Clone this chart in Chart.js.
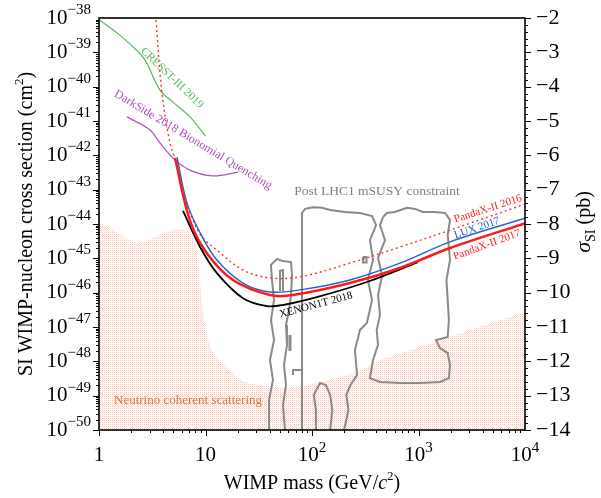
<!DOCTYPE html>
<html>
<head>
<meta charset="utf-8">
<script src="https://cdn.jsdelivr.net/npm/chart.js@4"></script>
<style>
  html, body { margin: 0; padding: 0; background: #fff; }
</style>
</head>
<body>
<canvas id="chart" width="601" height="498"></canvas>
<script>
// axis ranges
const massRange = [1, 10000];
const sigmaExpRange = [-50, -38];
const pbRange = [-14, -2];

// ticks
const massTicks = [1, 10, 100, 1000, 10000];
const massTickLabels = [['1', ''], ['10', ''], ['10', '2'], ['10', '3'], ['10', '4']];
const sigmaTickExps = [-38, -39, -40, -41, -42, -43, -44, -45, -46, -47, -48, -49, -50];
const pbTicks = [-2, -3, -4, -5, -6, -7, -8, -9, -10, -11, -12, -13, -14];

// curves: [mass GeV, log10 sigma cm^2]
const cresst2019 = [[1, -38.05], [1.48, -38.44], [2.09, -38.84], [2.7, -39.22], [3.74, -40.1], [4.95, -40.45], [7.15, -40.88], [10, -41.44]];
const darkside2018 = [[1.83, -40.88], [3.01, -41.26], [3.74, -41.64], [4.95, -42.08], [7.15, -42.43], [11.7, -42.6], [20.2, -42.49]];
const pandax2016 = [[3.43, -38.06], [3.9, -40.18], [4.64, -41.64], [5.4, -42.25], [6.15, -43.1], [8.9, -44.3], [12.8, -44.76], [22.5, -45.34], [40.3, -45.57], [77, -45.54], [227, -45.14], [670, -44.67], [1977, -44.18], [10000, -43.42]];
const lux2017 = [[5.4, -42.05], [6.7, -43.39], [8.9, -44.26], [12.8, -45.05], [22.5, -45.72], [40, -45.98], [77, -45.92], [227, -45.63], [670, -45.14], [1977, -44.52], [10000, -43.83]];
const pandax2017 = [[5.17, -42.08], [7.15, -43.9], [10.3, -44.85], [18.1, -45.63], [40.3, -46.07], [66, -46.07], [227, -45.72], [670, -45.28], [1977, -44.7], [10000, -43.98]];
const xenon2018 = [[6.15, -43.62], [8.9, -44.67], [12.8, -45.43], [22.5, -46.16], [37.8, -46.39], [53, -46.36], [111, -46.13], [328, -45.69], [989, -45.11]];
const neutrinoFloor = [[1, -43.95], [1.5, -44.26], [2.32, -44.55], [3.36, -44.38], [5.4, -44.15], [7.15, -44.26], [7.97, -44.55], [8.9, -45.72], [9.9, -47.0], [11.5, -47.67], [16.3, -48.25], [23.5, -48.6], [62, -48.75], [183, -48.46], [283, -48.25], [437, -47.96], [1030, -47.58], [2450, -47.18], [10000, -46.56]];

// post LHC1 mSUSY contours
const susyA = [[40.3, -50], [39.5, -49.13], [43, -48.54], [40.3, -47.96], [44, -47.38], [41.2, -46.8], [44, -46.21], [42.1, -45.63], [41.2, -45.19], [46.9, -45.02], [53.4, -45.08], [63.5, -45.11], [64.9, -45.49], [63.5, -46.07], [60.8, -46.51], [57, -46.94], [58.2, -47.52], [54.6, -48.11], [57, -48.69], [53.4, -49.27], [55.7, -50]];
const susyFinger = [[50.1, -45.95], [50.1, -45.36], [53.4, -45.34], [53.4, -45.95]];
const susyBlob = [[62.1, -47.23], [62.1, -47.7]];
const susyHook = [[66.3, -48.4], [66.3, -48.25], [80.6, -48.25]];
const susyB = [[80.6, -50], [80.6, -43.68], [86, -43.56], [102, -43.51], [124, -43.53], [148, -43.59], [204, -43.65], [282, -43.68], [366, -43.77], [400, -44.03], [350, -44.47], [374, -45.05], [335, -45.63], [366, -46.21], [328, -46.88], [282, -47.09], [253, -47.67], [265, -48.4], [230, -48.69], [210, -48.98], [220, -49.42], [200, -50]];
const susyD = [[107, -50], [109, -49.42], [104, -48.98], [119, -48.63], [135, -48.69], [148, -48.98], [155, -49.42], [148, -50]];
const susyC = [[464, -43.8], [505, -43.68], [600, -43.65], [780, -43.53], [930, -43.56], [1100, -43.65], [1429, -43.65], [1774, -43.68], [1976, -43.88], [1880, -44.32], [1976, -45.05], [1830, -45.63], [1880, -46.21], [1930, -46.8], [1880, -47.29], [1460, -47.38], [1590, -47.61], [1880, -47.76], [1976, -48.11], [1930, -48.49], [1592, -48.6], [1040, -48.63], [670, -48.63], [435, -48.6], [350, -48.49], [374, -47.96], [417, -47.52], [405, -47.09], [435, -46.65], [417, -46.07], [455, -45.49], [417, -44.99], [485, -44.47], [435, -44.03], [464, -43.8]];
const susyLoop = [[301, -44.96], [325, -44.96], [325, -45.12], [301, -45.12], [301, -44.96]];

const toPoints = arr => arr.map(p => ({ x: p[0], y: Math.pow(10, p[1]) }));

function dotPattern(ctx) {
  const c = document.createElement('canvas');
  c.width = 2; c.height = 2;
  const g = c.getContext('2d');
  g.fillStyle = 'rgb(250,196,182)';
  g.fillRect(0, 0, 1, 1);
  g.fillStyle = 'rgb(253,232,226)';
  g.fillRect(1, 1, 1, 1);
  return ctx.createPattern(c, 'repeat');
}

const serif = '"Liberation Serif", "Times New Roman", serif';

// text with super/subscripts, runs = [{t, size, italic, dy}]
function drawRuns(ctx, runs, x, y, align) {
  let w = 0;
  runs.forEach(r => {
    ctx.font = (r.italic ? 'italic ' : '') + r.size + 'px ' + serif;
    r.w = ctx.measureText(r.t).width;
    w += r.w;
  });
  let cx = align === 'center' ? x - w / 2 : align === 'right' ? x - w : x;
  ctx.textAlign = 'left';
  runs.forEach(r => {
    ctx.font = (r.italic ? 'italic ' : '') + r.size + 'px ' + serif;
    ctx.fillText(r.t, cx, y + (r.dy || 0));
    cx += r.w;
  });
}

const annotations = [
  { text: 'CRESST-III 2019', m: 4.85, e: -39.75, angle: 44, color: '#5cb85c', size: 11.5 },
  { text: 'DarkSide 2018 Bionomial Quenching', m: 7.64, e: -41.55, angle: 31, color: '#a855b5', size: 12 },
  { text: 'Post LHC1 mSUSY constraint', m: 408, e: -43.04, angle: 0, color: '#808080', size: 13.5 },
  { text: 'PandaX-II 2016', m: 4496, e: -43.56, angle: -18, color: '#ff2020', size: 11 },
  { text: 'LUX 2017', m: 3540, e: -44.12, angle: -19, color: '#2060c0', size: 11 },
  { text: 'PandaX-II 2017', m: 4400, e: -44.61, angle: -20, color: '#ff2020', size: 11 },
  { text: 'XENON1T 2018', m: 109, e: -46.36, angle: -15, color: '#000', size: 11 },
  { text: 'Neutrino coherent scattering', m: 6.85, e: -49.13, angle: 0, color: '#d2783c', size: 13 }
];

const axesPlugin = {
  id: 'axesPlugin',
  afterDatasetsDraw(chart) {
    const { ctx, chartArea: a, scales } = chart;
    const x = scales.x, y = scales.y, y2 = scales.y2;
    ctx.save();
    ctx.fillStyle = '#000';
    ctx.strokeStyle = '#000';

    // tick marks
    ctx.lineWidth = 1;
    ctx.beginPath();
    for (let d = 0; d < 4; d++) {
      for (let k = 1; k < 10; k++) {
        const px = Math.round(x.getPixelForValue(Math.pow(10, d) * k)) + 0.5;
        ctx.moveTo(px, a.bottom);
        ctx.lineTo(px, a.bottom + (k === 1 ? 6 : 3));
      }
    }
    for (let ex = -50; ex < -38; ex++) {
      for (let k = 1; k < 10; k++) {
        const py = Math.round(y.getPixelForValue(k * Math.pow(10, ex))) + 0.5;
        ctx.moveTo(a.left, py);
        ctx.lineTo(a.left - (k === 1 ? 6 : 3), py);
      }
    }
    for (let v = pbRange[0]; v < pbRange[1] + 0.01; v += 0.2) {
      const py = Math.round(y2.getPixelForValue(v)) + 0.5;
      const major = Math.abs(v - Math.round(v)) < 0.01;
      ctx.moveTo(a.right, py);
      ctx.lineTo(a.right + (major ? 6 : 3), py);
    }
    ctx.stroke();

    // frame
    ctx.lineWidth = 1.6;
    ctx.strokeRect(a.left, a.top, a.right - a.left, a.bottom - a.top);

    // tick labels
    ctx.textBaseline = 'middle';
    sigmaTickExps.forEach(ex => {
      const py = y.getPixelForValue(Math.pow(10, ex));
      drawRuns(ctx, [{ t: '10', size: 21 }, { t: '\u2212' + Math.abs(ex), size: 15, dy: -8 }], a.left - 8, py, 'right');
    });
    ctx.textBaseline = 'alphabetic';
    massTicks.forEach((m, i) => {
      const px = x.getPixelForValue(m);
      const lb = massTickLabels[i];
      const runs = [{ t: lb[0], size: 21 }];
      if (lb[1]) runs.push({ t: lb[1], size: 15, dy: -9 });
      drawRuns(ctx, runs, px, a.bottom + 31, 'center');
    });
    ctx.textBaseline = 'middle';
    pbTicks.forEach(v => {
      const py = y2.getPixelForValue(v);
      drawRuns(ctx, [{ t: '\u2212' + Math.abs(v), size: 22 }], a.right + 11, py, 'left');
    });

    // axis titles
    ctx.textBaseline = 'alphabetic';
    drawRuns(ctx, [{ t: 'WIMP mass (GeV/', size: 20 }, { t: 'c', size: 20, italic: true }, { t: '2', size: 13, dy: -9 }, { t: ')', size: 20 }], (a.left + a.right) / 2, 489, 'center');

    ctx.save();
    ctx.translate(32, (a.top + a.bottom) / 2);
    ctx.rotate(-Math.PI / 2);
    drawRuns(ctx, [{ t: 'SI WIMP-nucleon cross section (cm', size: 20 }, { t: '2', size: 13, dy: -9 }, { t: ')', size: 20 }], 0, 0, 'center');
    ctx.restore();

    ctx.save();
    ctx.translate(590, 222);
    ctx.rotate(-Math.PI / 2);
    drawRuns(ctx, [{ t: '\u03c3', size: 22, italic: true }, { t: 'SI', size: 14, dy: 5 }, { t: ' (pb)', size: 20 }], 0, 0, 'center');
    ctx.restore();

    // curve labels
    ctx.textBaseline = 'middle';
    annotations.forEach(an => {
      ctx.save();
      ctx.translate(x.getPixelForValue(an.m), y.getPixelForValue(Math.pow(10, an.e)));
      ctx.rotate(an.angle * Math.PI / 180);
      ctx.fillStyle = an.color;
      ctx.font = an.size + 'px ' + serif;
      ctx.textAlign = 'center';
      ctx.fillText(an.text, 0, 0);
      ctx.restore();
    });
    ctx.restore();
  }
};

const canvas = document.getElementById('chart');
const ctx = canvas.getContext('2d');

const susyStyle = { borderColor: '#8a8a8a', borderWidth: 2, fill: false, tension: 0, order: 5 };

new Chart(ctx, {
  type: 'line',
  data: {
    datasets: [
      { data: toPoints(pandax2017), borderColor: '#ff1a1a', borderWidth: 2.5, tension: 0.35, fill: false, order: 0 },
      { data: toPoints(lux2017), borderColor: '#2a62c4', borderWidth: 1.4, tension: 0.35, fill: false, order: 1 },
      { data: toPoints(pandax2016), borderColor: '#ff3030', borderWidth: 1.4, borderDash: [2, 3], tension: 0.35, fill: false, order: 1 },
      { data: toPoints(xenon2018), borderColor: '#000', borderWidth: 1.8, tension: 0.35, fill: false, order: 1 },
      { data: toPoints(cresst2019), borderColor: '#5cb85c', borderWidth: 1.2, tension: 0.35, fill: false, order: 2 },
      { data: toPoints(darkside2018), borderColor: '#a855b5', borderWidth: 1.2, tension: 0.35, fill: false, order: 2 },
      Object.assign({ data: toPoints(susyA) }, susyStyle),
      Object.assign({ data: toPoints(susyFinger) }, susyStyle),
      Object.assign({ data: toPoints(susyBlob) }, susyStyle, { borderWidth: 3 }),
      Object.assign({ data: toPoints(susyHook) }, susyStyle),
      Object.assign({ data: toPoints(susyB) }, susyStyle),
      Object.assign({ data: toPoints(susyD) }, susyStyle),
      Object.assign({ data: toPoints(susyC) }, susyStyle),
      Object.assign({ data: toPoints(susyLoop) }, susyStyle),
      { data: toPoints(neutrinoFloor), borderWidth: 0, borderColor: 'rgba(0,0,0,0)', backgroundColor: dotPattern(ctx), fill: 'start', tension: 0.3, order: 10 }
    ]
  },
  options: {
    responsive: false,
    animation: false,
    devicePixelRatio: 1,
    layout: { padding: { left: 99, right: 76, top: 18, bottom: 68 } },
    elements: { point: { radius: 0 } },
    plugins: { legend: { display: false }, tooltip: { enabled: false } },
    scales: {
      x: { type: 'logarithmic', min: massRange[0], max: massRange[1], display: false },
      y: { type: 'logarithmic', min: Math.pow(10, sigmaExpRange[0]), max: Math.pow(10, sigmaExpRange[1]), display: false },
      y2: { type: 'linear', min: pbRange[0], max: pbRange[1], display: false, position: 'right' }
    }
  },
  plugins: [axesPlugin]
});
</script>
</body>
</html>
